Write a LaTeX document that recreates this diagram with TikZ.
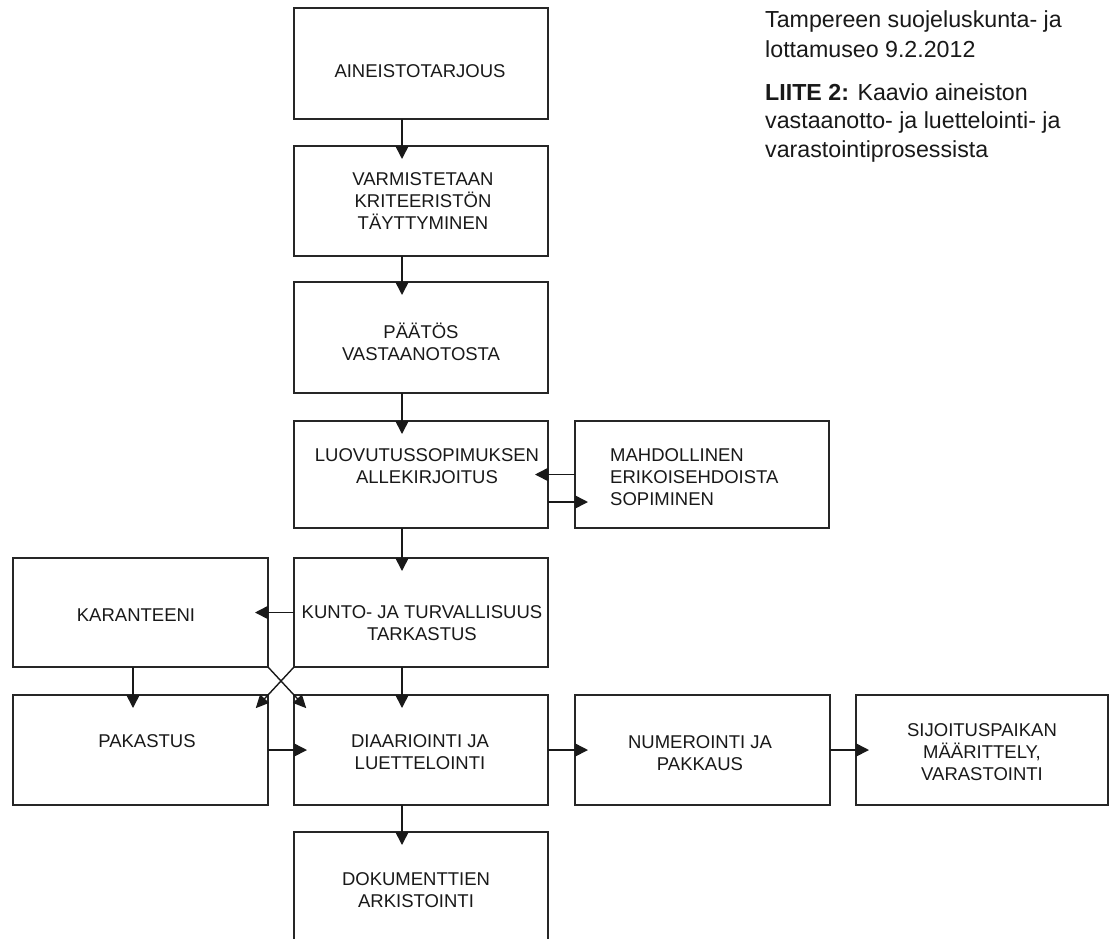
\documentclass[tikz,border=0pt]{standalone}
\usepackage{fontspec}
\setmainfont{Liberation Sans}
\usetikzlibrary{arrows.meta}
\begin{document}
\begin{tikzpicture}[x=1pt,y=-1pt,
  box/.style={draw=black!85, line width=1.6pt, fill=white, minimum width=254pt,
    inner sep=0pt, outer sep=0pt},
  txt/.style={inner sep=0pt, align=center, text=black!90,
    font=\fontsize{18.5}{22}\selectfont},
  hdr/.style={anchor=base west, inner sep=0pt, text=black!90,
    font=\fontsize{23.2}{28}\selectfont},
  arr/.style={draw=black!90, line width=1.6pt, -{Triangle[length=13pt,width=13pt]},
    shorten >=-13pt},
  xarr/.style={draw=black!90, line width=1.4pt, -{Triangle[length=13pt,width=12pt]},
    shorten >=-18pt}]
\useasboundingbox (0,0) rectangle (1110,938);
\clip (0,0) rectangle (1110,938);
\fill[white] (0,0) rectangle (1110,938);

% boxes
\node[box, minimum height=111pt] (A) at (421,63.5) {};
\node[box, minimum height=110pt] (B) at (421,201) {};
\node[box, minimum height=111pt] (C) at (421,337.5) {};
\node[box, minimum height=107pt] (D) at (421,474.5) {};
\node[box, minimum height=107pt] (M) at (702,474.5) {};
\node[box, minimum width=255pt, minimum height=109pt] (K) at (140.5,612.5) {};
\node[box, minimum height=109pt] (T) at (421,612.5) {};
\node[box, minimum width=255pt, minimum height=110pt] (P) at (140.5,750) {};
\node[box, minimum height=110pt] (DI) at (421,750) {};
\node[box, minimum width=255pt, minimum height=110pt] (N) at (702.5,750) {};
\node[box, minimum width=252pt, minimum height=110pt] (S) at (982,750) {};
\node[box, minimum height=112pt] (DO) at (421,888) {};

% texts
\node[txt] (At) at (420,71) {AINEISTOTARJOUS};
\node[txt] (Bt) at (423,201) {VARMISTETAAN\\KRITEERISTÖN\\TÄYTTYMINEN};
\node[txt] (Ct) at (421,342) {PÄÄTÖS\\VASTAANOTOSTA};
\node[txt] (Dt) at (427,466) {LUOVUTUSSOPIMUKSEN\\ALLEKIRJOITUS};
\node[txt, align=left, anchor=west] (Mt) at (610,477) {MAHDOLLINEN\\ERIKOISEHDOISTA\\SOPIMINEN};
\node[txt] (Kt) at (136,615) {KARANTEENI};
\node[txt] (Tt) at (422,623) {KUNTO- JA TURVALLISUUS\\TARKASTUS};
\node[txt] (Pt) at (147,741) {PAKASTUS};
\node[txt] (DIt) at (420,752) {DIAARIOINTI JA\\LUETTELOINTI};
\node[txt] (Nt) at (700,753) {NUMEROINTI JA\\PAKKAUS};
\node[txt] (St) at (982,752) {SIJOITUSPAIKAN\\MÄÄRITTELY,\\VARASTOINTI};
\node[txt] (DOt) at (416,890) {DOKUMENTTIEN\\ARKISTOINTI};

% header
\node[hdr] (H1) at (765,27) {Tampereen suojeluskunta- ja};
\node[hdr] (H2) at (765,57) {lottamuseo 9.2.2012};
\node[hdr] (H3) at (765,100) {\textbf{LIITE 2:} Kaavio aineiston};
\node[hdr] (H4) at (765,128) {vastaanotto- ja luettelointi- ja};
\node[hdr] (H5) at (765,157) {varastointiprosessista};

% arrows
\draw[arr] ([xshift=-19pt]A.south) -- ([xshift=-19pt]B.north);
\draw[arr] ([xshift=-19pt]B.south) -- ([xshift=-19pt]C.north);
\draw[arr] ([xshift=-19pt]C.south) -- ([xshift=-19pt]D.north);
\draw[arr] ([xshift=-19pt]D.south) -- ([xshift=-19pt]T.north);
\draw[arr] ([xshift=-19pt]T.south) -- ([xshift=-19pt]DI.north);
\draw[arr] ([xshift=-19pt]DI.south) -- ([xshift=-19pt]DO.north);
\draw[arr] (M.west) -- (D.east);
\draw[arr] ([yshift=-27.5pt]D.east) -- ([yshift=-27.5pt]M.west);
\draw[arr] (T.west) -- (K.east);
\draw[arr] ([xshift=-7.5pt]K.south) -- ([xshift=-7.5pt]P.north);
\draw[xarr] (K.south east) -- (DI.north west);
\draw[xarr] (T.south west) -- (P.north east);
\draw[arr] (P.east) -- (DI.west);
\draw[arr] (DI.east) -- (N.west);
\draw[arr] (N.east) -- (S.west);
\end{tikzpicture}
\end{document}
